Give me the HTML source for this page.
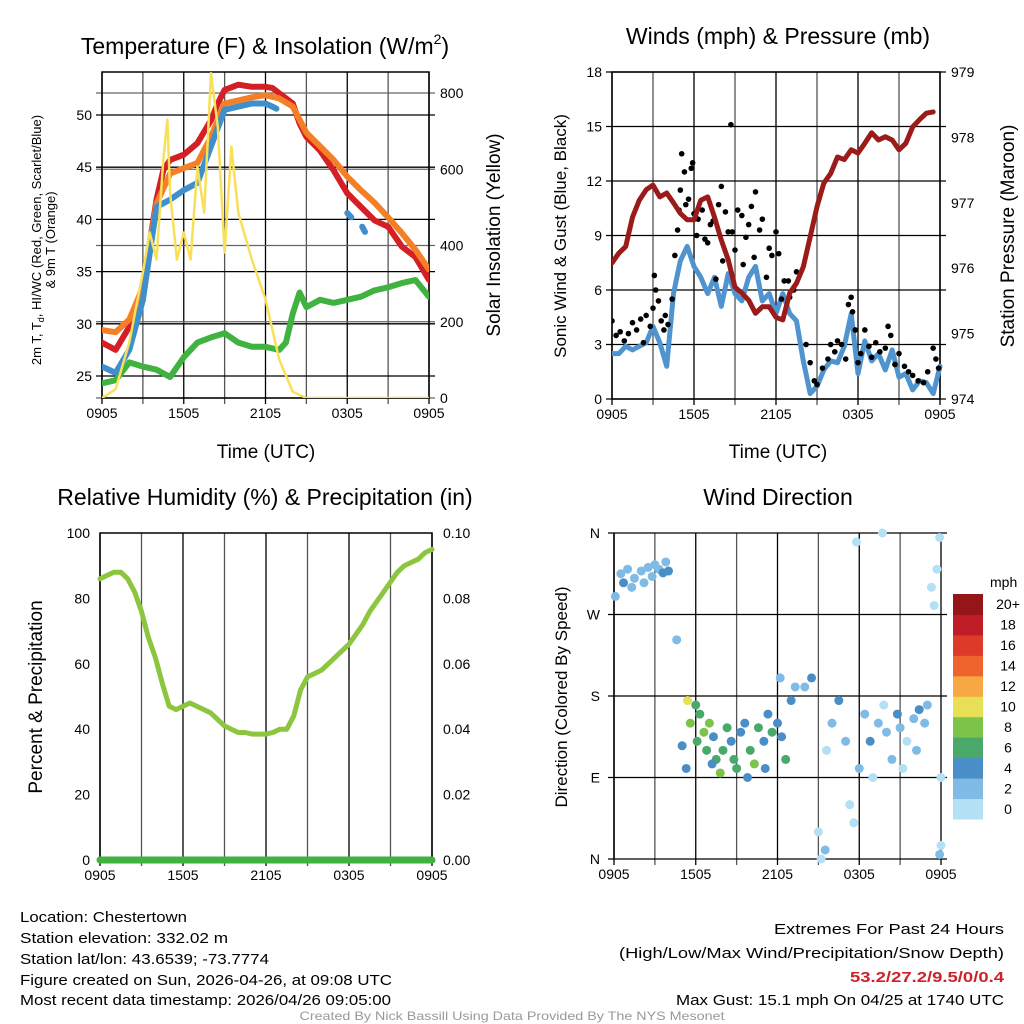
<!DOCTYPE html>
<html><head><meta charset="utf-8">
<style>
html,body{margin:0;padding:0;background:#fff;}
svg{display:block;font-family:"Liberation Sans",Arial,sans-serif;}
</style></head>
<body>
<svg id="fig" width="1024" height="1024" viewBox="0 0 1024 1024" xmlns="http://www.w3.org/2000/svg">
<rect width="1024" height="1024" fill="#fff"/>
<g id="p1"></g>
<g id="p2"></g>
<g id="p3"></g>
<g id="p4"></g>

<text x="265" y="54" font-size="23" text-anchor="middle">Temperature (F) &amp; Insolation (W/m<tspan font-size="14" dy="-10">2</tspan><tspan dy="10">)</tspan></text>
<text x="778" y="44" font-size="23" text-anchor="middle">Winds (mph) &amp; Pressure (mb)</text>
<text x="265" y="505" font-size="23" text-anchor="middle">Relative Humidity (%) &amp; Precipitation (in)</text>
<text x="778" y="505" font-size="23" text-anchor="middle">Wind Direction</text>

<text x="266" y="458" font-size="19" text-anchor="middle">Time (UTC)</text>
<text x="778" y="458" font-size="19" text-anchor="middle">Time (UTC)</text>

<g font-size="13" text-anchor="middle">
<text transform="translate(41,240) rotate(-90)">2m T, T<tspan font-size="9" dy="3">d</tspan><tspan dy="-3">, HI/WC (Red, Green, Scarlet/Blue)</tspan></text>
<text transform="translate(55,240) rotate(-90)">&amp; 9m T (Orange)</text>
</g>
<text transform="translate(500,235) rotate(-90)" font-size="19" text-anchor="middle">Solar Insolation (Yellow)</text>
<text transform="translate(566,236) rotate(-90)" font-size="17" text-anchor="middle">Sonic Wind &amp; Gust (Blue, Black)</text>
<text transform="translate(1014,236) rotate(-90)" font-size="19" text-anchor="middle">Station Pressure (Maroon)</text>
<text transform="translate(42,697) rotate(-90)" font-size="19" text-anchor="middle">Percent &amp; Precipitation</text>
<text transform="translate(567,697) rotate(-90)" font-size="17" text-anchor="middle">Direction (Colored By Speed)</text>

<g font-size="15">
<text x="20" y="922" textLength="167" lengthAdjust="spacingAndGlyphs">Location: Chestertown</text>
<text x="20" y="943" textLength="208" lengthAdjust="spacingAndGlyphs">Station elevation: 332.02 m</text>
<text x="20" y="964" textLength="249" lengthAdjust="spacingAndGlyphs">Station lat/lon: 43.6539; -73.7774</text>
<text x="20" y="985" textLength="372" lengthAdjust="spacingAndGlyphs">Figure created on Sun, 2026-04-26, at 09:08 UTC</text>
<text x="20" y="1005" textLength="371" lengthAdjust="spacingAndGlyphs">Most recent data timestamp: 2026/04/26 09:05:00</text>
</g>
<g font-size="15" text-anchor="end">
<text x="1004" y="934" textLength="230" lengthAdjust="spacingAndGlyphs">Extremes For Past 24 Hours</text>
<text x="1004" y="958" textLength="385" lengthAdjust="spacingAndGlyphs">(High/Low/Max Wind/Precipitation/Snow Depth)</text>
<text x="1004" y="982" fill="#d0202a" font-weight="bold" textLength="154" lengthAdjust="spacingAndGlyphs">53.2/27.2/9.5/0/0.4</text>
<text x="1004" y="1005" textLength="328" lengthAdjust="spacingAndGlyphs">Max Gust: 15.1 mph On 04/25 at 1740 UTC</text>
</g>
<text x="512" y="1020" font-size="12" fill="#999" text-anchor="middle" textLength="425" lengthAdjust="spacingAndGlyphs">Created By Nick Bassill Using Data Provided By The NYS Mesonet</text>
</svg>
<script>
// ---- data (hours since 0905 UTC) ----
const xTickLabels = ['0905','1505','2105','0305','0905'];
const halfHours = [0,0.5,1,1.5,2,2.5,3,3.5,4,4.5,5,5.5,6,6.5,7,7.5,8,8.5,9,9.5,10,10.5,11,11.5,12,12.5,13,13.5,14,14.5,15,15.5,16,16.5,17,17.5,18,18.5,19,19.5,20,20.5,21,21.5,22,22.5,23,23.5,24];
const tempT = [0,1,2,3,4,4.5,5,6,7,8,8.5,9,10,11,12,12.5,13,14,14.5,15,16,17,18,19,20,21,22,23,24];
const tempRed = [28.2,27.5,29.7,33.5,41.9,44.7,45.7,46.2,47.3,49.5,51.1,52.4,52.9,52.7,52.7,52.6,52.1,51.1,49.2,47.9,46.6,44.7,42.5,41.2,39.9,39.3,37.4,36.4,34.2];
const orangeT = [0,1,2,3,4,5,6,7,8,9,10,11,12,13,14,15,16,17,18,19,20,21,22,23,24];
const tempOrange = [29.4,29.2,30.4,33.5,41.5,44.4,44.9,45.4,47.9,51.1,51.4,51.7,51.9,51.6,50.8,48.3,47.0,45.7,44.1,42.8,41.6,40.2,38.7,37.1,35.2];
const blueT = [0,1,2,3,4,5,6,7,8,9,10,11,12,12.5,12.8];
const tempBlue = [25.9,25.3,27.5,32.3,41.2,41.9,42.8,43.5,47.0,50.5,50.8,51.1,51.1,50.8,50.6];
const blueT2 = [18,18.3];
const tempBlue2 = [40.6,40.2];
const blueT3 = [19.1,19.3];
const tempBlue3 = [39.3,38.8];
const greenT = [0,1,2,3,4,5,6,7,8,9,10,11,12,13,13.5,14,14.5,15,16,17,18,19,20,21,22,23,24];
const tempGreen = [24.3,24.6,26.3,25.9,25.6,24.9,26.8,28.2,28.7,29.1,28.2,27.8,27.8,27.5,28.2,31.0,33.0,31.6,32.3,32.0,32.3,32.6,33.2,33.5,33.9,34.2,32.6];
const solarT = [0,1,2,3,3.5,4,4.5,4.8,5,5.5,6,6.5,7,7.5,8,8.5,9,9.5,10,11,12,13,14,15,24];
const solar = [0,23,146,330,434,363,625,730,538,363,434,363,607,486,852,711,382,659,486,363,259,102,16,0,0];
const tempTicks = [25,30,35,40,45,50];
const solarTicks = [0,200,400,600,800];

const windT = halfHours;
const sonicWind = [2.5,2.5,2.9,2.7,2.9,3.1,4.0,3.1,1.8,5.8,7.6,8.4,7.3,6.7,5.8,6.7,5.1,6.9,5.8,5.4,6.7,7.3,5.4,5.8,4.7,5.8,4.7,4.3,2.1,0.3,0.7,1.6,2.1,2.0,2.9,4.7,1.4,3.2,2.1,2.5,1.6,2.7,1.2,1.4,0.5,1.0,0.9,0.3,1.8];
const presT = halfHours.slice(0,48);
const pressure = [976.08,976.23,976.33,976.78,977.04,977.2,977.27,977.09,977.15,977.0,976.84,976.74,976.74,977.04,977.09,976.78,976.43,976.13,975.71,975.62,975.51,975.31,975.41,975.41,975.25,975.21,975.62,975.77,976.02,976.48,976.94,977.3,977.45,977.7,977.66,977.81,977.76,977.91,978.07,977.96,978.01,977.96,977.81,977.91,978.16,978.27,978.37,978.39];
const gustT = [0,0.3,0.6,0.9,1.2,1.5,1.8,2.1,2.3,2.5,2.8,3.0,3.1,3.2,3.4,3.6,3.8,3.9,4.1,4.4,4.6,4.8,4.9,5.0,5.1,5.3,5.4,5.6,5.8,5.9,6.0,6.2,6.3,6.6,6.8,7.0,7.2,7.4,7.6,7.8,8.0,8.1,8.3,8.5,8.7,8.8,9.0,9.2,9.5,9.6,9.8,10.0,10.2,10.4,10.5,10.8,11.0,11.3,11.5,11.7,12.0,12.2,12.4,12.6,12.9,13.0,13.3,13.5,14.2,14.5,14.8,15.0,15.4,15.8,16.0,16.3,16.5,16.8,17.1,17.3,17.5,17.6,17.8,18.0,18.2,18.5,18.8,19.0,19.3,19.6,20.0,20.2,20.4,20.7,21.0,21.4,21.7,22.0,22.4,22.8,23.1,23.5,23.7,23.9];
const gust = [4.3,3.5,3.7,3.2,3.6,4.2,3.8,4.4,3.1,4.6,4.0,5.0,6.8,6.0,5.4,4.3,3.8,4.6,4.1,5.5,7.9,9.3,10.4,11.5,13.5,12.5,10.7,11.0,12.7,13.0,10.2,9.0,9.9,10.4,8.8,8.6,9.6,9.8,6.6,10.7,11.7,7.6,10.3,9.2,15.1,9.2,8.2,10.4,10.1,7.4,8.9,9.6,10.6,7.8,11.4,9.3,9.9,6.7,8.3,7.9,9.2,8.0,5.5,6.5,6.5,5.6,6.0,7.0,3.0,2.0,1.0,0.8,1.7,2.2,3.0,2.6,3.2,3.0,2.2,5.2,5.6,4.8,3.8,2.0,2.5,3.8,2.9,2.3,3.1,2.6,2.8,4.0,3.5,1.9,2.5,1.8,1.5,1.3,1.0,0.9,1.5,2.8,2.2,1.7];
const windTicks = [0,3,6,9,12,15,18];
const presTicks = [974,975,976,977,978,979];

const rhT = halfHours;
const rh = [86,87,88,88,86,82,76,68,62,54,47,46,47,48,47,46,45,43,41,40,39,39,38.5,38.5,38.5,39,40,40,44,52,56,57,58,60,62,64,66,69,72,76,79,82,85,88,90,91,92,94,95];
const precipT = [0,24];
const precip = [0,0];
const rhTicks = [0,20,40,60,80,100];
const precipTicks = ['0.00','0.02','0.04','0.06','0.08','0.10'];

const dirT = [0.1,0.5,1,1.5,2,2.5,3,3.3,3.8,4,1.3,2.2,0.7,2.8,3.6,4.6,5,5.3,5.6,6,6.3,6.6,6.8,7,7.3,7.5,7.8,8,8.3,8.6,9,9.3,9.6,10,10.3,10.6,11,11.3,11.6,12,12.3,12.6,13,13.3,5.4,6.1,7.2,8.8,9.8,11.1,12.2,14,14.5,15,15.2,15.6,16,16.5,17,17.3,17.6,18,18.4,18.8,19,19.4,19.8,20,20.4,20.8,21,21.5,22,22.4,22.8,23,23.3,23.5,23.7,23.9,24,24,23.9,15.5,17.8,19.7,21.2,22.2];
const dirDeg = [290,315,320,310,318,322,325,320,328,318,300,305,305,312,316,242,125,100,150,170,160,140,120,150,135,110,95,120,145,130,100,140,150,120,105,145,130,160,140,150,135,110,175,190,175,130,105,110,90,100,200,190,200,30,0,120,150,175,130,60,40,100,160,130,90,150,170,140,110,160,145,130,155,165,150,170,300,280,320,355,90,15,5,10,350,360,100,120];
const dirSpd = [2,2,2,2,2,2,2,2,2,4,2,2,4,2,4,2,4,4,8,6,6,8,6,8,4,6,8,6,6,4,6,4,4,6,8,6,4,4,6,4,4,6,4,2,10,6,4,6,4,4,2,2,4,0,0,0,2,4,2,0,0,2,2,4,0,2,0,2,2,4,2,0,2,4,2,2,0,0,0,0,0,0,2,2,0,0,0,2];
const speedBins = ['0','2','4','6','8','10','12','14','16','18','20+'];
const dirLabels = ['N','E','S','W','N'];

// ---- helpers ----
const NS='http://www.w3.org/2000/svg';
function mk(parent, tag, attrs){const e=document.createElementNS(NS,tag);for(const k in attrs)e.setAttribute(k,attrs[k]);parent.appendChild(e);return e;}
function lin(d0,d1,r0,r1){return v=>r0+(v-d0)/(d1-d0)*(r1-r0);}
function path(xs,ys,fx,fy){return xs.map((t,i)=>(i?'L':'M')+fx(t).toFixed(1)+','+fy(ys[i]).toFixed(1)).join('');}

function frame(g,L,R,T,B,fx){
  for(let h=0;h<=24;h+=3){const x=fx(h);
    const ln=mk(g,'line',{x1:x,x2:x,y1:T,y2:B+6,stroke:h%6?'#555':'#000','stroke-width':1.3});
    }
  xTickLabels.forEach((s,i)=>{const t=mk(g,'text',{x:fx(i*6),y:B+20,'font-size':14,'text-anchor':'middle'});t.textContent=s;
    });
}
function hgrid(g,L,R,y,color){const ln=mk(g,'line',{x1:L-6,x2:R+6,y1:y,y2:y,stroke:color,'stroke-width':1.3});
  }
function label(g,x,y,s,anchor){const t=mk(g,'text',{x:x,y:y+5,'font-size':14,'text-anchor':anchor});t.textContent=s;
  return t;}
function border(g,L,R,T,B){const r=mk(g,'rect',{x:L,y:T,width:R-L,height:B-T,fill:'none',stroke:'#000','stroke-width':1.5});
  }
function line(g,xs,ys,fx,fy,color,w,name){const p=mk(g,'path',{d:path(xs,ys,fx,fy),fill:'none',stroke:color,'stroke-width':w,'stroke-linejoin':'round','stroke-linecap':'round'});
  return p;}

// ---- panel 1 ----
(function(){
  const g=document.getElementById('p1');const L=102,R=429,T=72,B=398;
  const fx=lin(0,24,L,R), fy=lin(25,50,376,115), fs=lin(0,800,398,93);
  frame(g,L,R,T,B,fx);
  solarTicks.forEach(v=>{hgrid(g,L,R,fs(v),'#666');label(g,R+11,fs(v),String(v),'start');});
  tempTicks.forEach(v=>{hgrid(g,L,R,fy(v),'#000');label(g,L-10,fy(v),String(v),'end');});
  border(g,L,R,T,B);
  const clip=mk(g,'clipPath',{id:'c1'});mk(clip,'rect',{x:L,y:T,width:R-L,height:B-T});
  const d=mk(g,'g',{'clip-path':'url(#c1)'});
  line(d,greenT,tempGreen,fx,fy,'#3fb23f',6,'dewpoint-line');
  line(d,tempT,tempRed,fx,fy,'#d42024',6,'temperature-line');
  line(d,orangeT,tempOrange,fx,fy,'#f47f27',6,'9m-temperature-line');
  line(d,blueT,tempBlue,fx,fy,'#3f8fcc',6,'windchill-line');
  line(d,blueT2,tempBlue2,fx,fy,'#3f8fcc',6,'windchill-line');
  line(d,blueT3,tempBlue3,fx,fy,'#3f8fcc',6,'windchill-line');
  line(d,solarT,solar,fx,fs,'#f8e05a',2.5,'solar-line');
})();

// ---- panel 2 ----
(function(){
  const g=document.getElementById('p2');const L=612,R=940,T=72,B=399;
  const fx=lin(0,24,L,R), fy=lin(0,18,B,T), fp=lin(974,979,B,T);
  frame(g,L,R,T,B,fx);
  windTicks.forEach(v=>{hgrid(g,L,R,fy(v),'#000');label(g,L-10,fy(v),String(v),'end');});
  presTicks.forEach(v=>{label(g,R+11,fp(v),String(v),'start');});
  border(g,L,R,T,B);
  const clip=mk(g,'clipPath',{id:'c2'});mk(clip,'rect',{x:L,y:T-4,width:R-L+4,height:B-T+8});
  const d=mk(g,'g',{'clip-path':'url(#c2)'});
  line(d,windT,sonicWind,fx,fy,'#4f94cf',5,'sonic-wind-line');
  gustT.forEach((t,i)=>{const c=mk(d,'circle',{cx:fx(t),cy:fy(gust[i]),r:2.8,fill:'#000'});
    });
  line(d,presT,pressure,fx,fp,'#9b1a1a',5,'pressure-line');
})();

// ---- panel 3 ----
(function(){
  const g=document.getElementById('p3');const L=100,R=432,T=533,B=860;
  const fx=lin(0,24,L,R), fy=lin(0,100,B,T), fq=lin(0,0.1,B,T);
  frame(g,L,R,T,B,fx);
  rhTicks.forEach((v,i)=>{label(g,L-10,fy(v),String(v),'end');label(g,R+11,fy(v),precipTicks[i],'start');});
  border(g,L,R,T,B);
  line(g,rhT,rh,fx,fy,'#8cc63f',5,'humidity-line');
  line(g,precipT,precip,fx,fq,'#3fb23f',7,'precipitation-line');
})();

// ---- panel 4 ----
(function(){
  const g=document.getElementById('p4');const L=614,R=941,T=533,B=859;
  const fx=lin(0,24,L,R), fy=lin(0,360,B,T);
  frame(g,L,R,T,B,fx);
  dirLabels.forEach((s,i)=>{hgrid(g,L,R,fy(i*90),'#000');label(g,L-14,fy(i*90),s,'end');});
  const ax=mk(g,'line',{x1:L,x2:L,y1:T,y2:B,stroke:'#000','stroke-width':1.5});
  
  const colors=['#b3e0f5','#80bbe6','#4a8ec7','#4aa86a','#7cc34a','#e7e057','#f6a843','#ef632c','#de3a2a','#bf1d25','#941619'];
  dirT.forEach((t,i)=>{const bi=Math.min(10,Math.floor(dirSpd[i]/2));
    const c=mk(g,'circle',{cx:fx(t),cy:fy(dirDeg[i]),r:4.5,fill:colors[bi]});
    });
  const cb=mk(g,'g',{});
  const h=(819-594)/11;
  speedBins.forEach((s,i)=>{const y=819-(i+1)*h;
    const r=mk(cb,'rect',{x:953,y:y,width:30,height:h+0.5,fill:colors[i]});
    
    const t=mk(cb,'text',{x:1008,y:y+h/2+5,'font-size':14,'text-anchor':'middle'});t.textContent=s;
    });
  const u=mk(cb,'text',{x:990,y:587,'font-size':14});u.textContent='mph';
  
})();
</script>
</body></html>
